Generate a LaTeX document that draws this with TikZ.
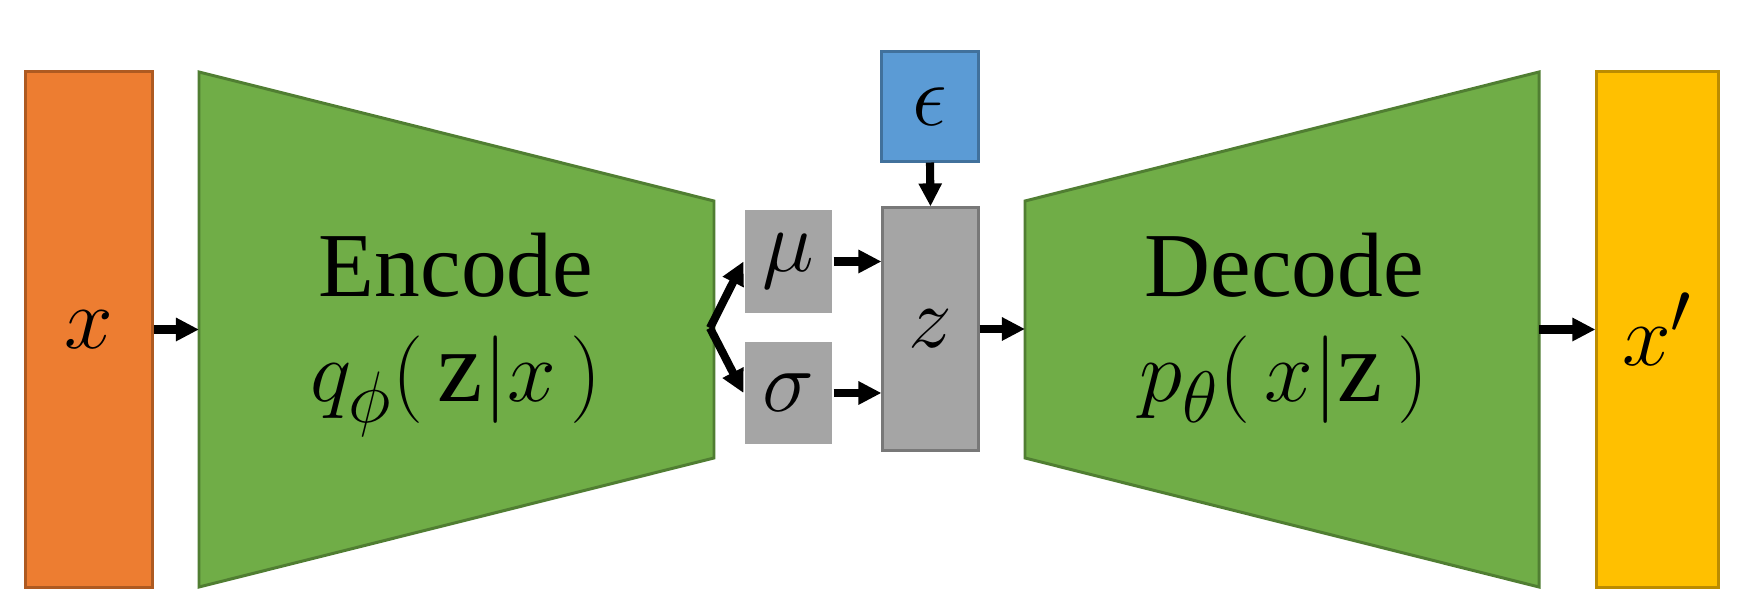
\documentclass[tikz,border=0pt]{standalone}
\usepackage{fontspec}
\setmainfont{Liberation Serif}
\usetikzlibrary{arrows.meta,positioning}
\definecolor{inorange}{HTML}{ED7D31}
\definecolor{inorangeb}{HTML}{AE5A21}
\definecolor{netgreen}{HTML}{70AD47}
\definecolor{netgreenb}{HTML}{507E32}
\definecolor{latgray}{HTML}{A5A5A5}
\definecolor{latgrayb}{HTML}{787878}
\definecolor{noiseblue}{HTML}{5B9BD5}
\definecolor{noiseblueb}{HTML}{41719C}
\definecolor{outyellow}{HTML}{FFC000}
\definecolor{outyellowb}{HTML}{BC8C00}
\newcommand{\cnd}[3]{{\fontsize{29}{31}\selectfont$#1(\,#2|#3\,)$}}

\begin{document}
\begin{tikzpicture}[x=0.01cm,y=-0.01cm,
    box/.style={inner sep=0pt,line width=0.85pt,font=\fontsize{32}{34}\selectfont},
    net/.style={fill=netgreen,draw=netgreenb,line width=0.85pt},
    lbl/.style={align=center,anchor=north,inner sep=0pt,font=\fontsize{26}{30}\selectfont},
    arr/.style={line width=2.3pt,-{Triangle[length=0.23cm,width=0.22cm]}}]
    \useasboundingbox (0,0) rectangle (1750,616);
    % input and output
    \node[box,fill=inorange,draw=inorangeb,minimum width=1.26cm,minimum height=5.15cm] (x) at (89,329.5) {$x$};
    \node[box,fill=outyellow,draw=outyellowb,minimum width=1.21cm,minimum height=5.15cm] (xr) at (1657.5,329.5) {$x'$};
    % encoder and decoder
    \draw[net] (199,72) -- (714,201) -- (714,458) -- (199,587) -- cycle;
    \node[lbl] (enc) at (456,232) {Encode\\\cnd{q_\phi}{\textnormal{z}}{x}};
    \coordinate (encin) at (199,329.5);
    \coordinate (fork) at (710,328);
    \draw[net] (1025,201) -- (1539,72) -- (1539,587) -- (1025,458) -- cycle;
    \node[lbl] (dec) at (1284,232) {Decode\\\cnd{p_\theta}{x}{\textnormal{z}}};
    \coordinate (decin) at (1025,329);
    \coordinate (decout) at (1539,329.5);
    % latent part
    \node[box,fill=latgray,minimum width=0.87cm,minimum height=1.03cm] (mu) at (788.5,261.5) {$\mu$};
    \node[box,fill=latgray,minimum width=0.87cm,minimum height=1.02cm] (sigma) at (788.5,393) {$\sigma$};
    \node[box,fill=latgray,draw=latgrayb,minimum width=0.95cm,minimum height=2.42cm] (z) at (930.5,329) {$z$};
    \node[box,fill=noiseblue,draw=noiseblueb,minimum width=0.96cm,minimum height=1.09cm] (eps) at (930,106.5) {$\epsilon$};
    % connectors
    \draw[arr] (x.east) -- (encin);
    \draw[arr] (fork) -- (mu.west);
    \draw[arr] (fork) -- (sigma.west);
    \draw[arr] (mu.east) -- (mu.east -| z.west);
    \draw[arr] (sigma.east) -- (sigma.east -| z.west);
    \draw[arr] (eps.south) -- (z.north);
    \draw[arr] (z.east) -- (decin);
    \draw[arr] (decout) -- (xr.west);
\end{tikzpicture}
\end{document}
